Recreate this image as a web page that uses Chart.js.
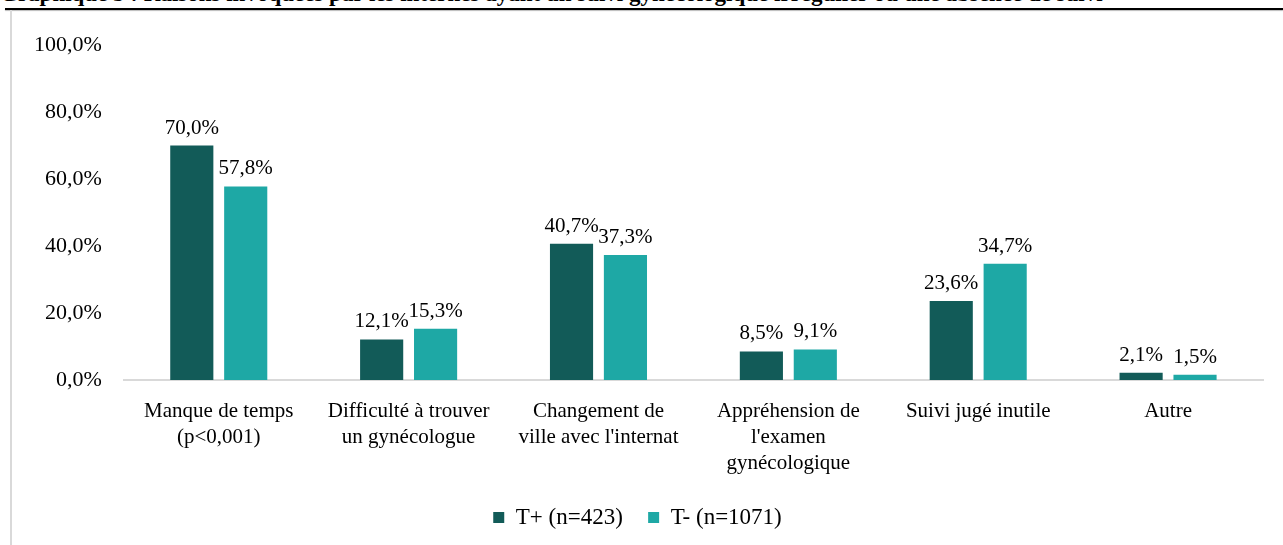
<!DOCTYPE html>
<html>
<head>
<meta charset="utf-8">
<script src="https://cdn.jsdelivr.net/npm/chart.js@4/dist/chart.umd.min.js"></script>
<style>
  html, body { margin: 0; padding: 0; background: #fff; overflow: hidden; }
  body { width: 1283px; height: 545px; position: relative; }
  #title {
    position: absolute; left: 0; top: -18px; white-space: nowrap;
    font: bold 23px "Liberation Serif", "Times New Roman", serif; color: #000;
    line-height: 23px;
  }
  #rule { position: absolute; left: 5px; right: 0; top: 8px; height: 2px; background: #000; box-shadow: 0 1px 1px #bbb; }
  #frame { position: absolute; left: 10px; top: 10px; width: 1273px; height: 535px; border-left: 2px solid #d9d9d9; }
  #wrap { position: absolute; left: 12px; top: 10px; width: 1271px; height: 535px; }
</style>
</head>
<body>
<div id="title">Graphique 5 : Raisons invoquées par les internes ayant un suivi gynécologique irrégulier ou une absence de suivi</div>
<div id="rule"></div>
<div id="frame"></div>
<div id="wrap"><canvas id="chart1"></canvas></div>
<script>
CATEGORIES = [
	['Manque de temps', '(p<0,001)'],
	['Difficulté à trouver', 'un gynécologue'],
	['Changement de', "ville avec l'internat"],
	['Appréhension de', "l'examen", 'gynécologique'],
	['Suivi jugé inutile'],
	['Autre']
];
T_PLUS = [70.0, 12.1, 40.7, 8.5, 23.6, 2.1];
T_MINUS = [57.8, 15.3, 37.3, 9.1, 34.7, 1.5];
SERIES_NAMES = ['T+ (n=423)', 'T- (n=1071)'];
COLORS = ['#125b58', '#1ea8a5'];
Y_TICKS = [0, 20, 40, 60, 80, 100];

function pct(v) {
	return v.toFixed(1).replace('.', ',') + '%';
}

// values written above each bar
var barValues = {
	id: 'barValues',
	afterDatasetsDraw: function(chart) {
		var ctx = chart.ctx;
		ctx.save();
		ctx.font = '21px "Liberation Serif", "Times New Roman", serif';
		ctx.fillStyle = '#000';
		ctx.textAlign = 'center';
		ctx.textBaseline = 'bottom';
		chart.data.datasets.forEach(function(ds, i) {
			chart.getDatasetMeta(i).data.forEach(function(bar, j) {
				ctx.fillText(pct(ds.data[j]), bar.x, bar.y - 7);
			});
		});
		ctx.restore();
	}
};

Chart.defaults.font.family = '"Liberation Serif", "Times New Roman", serif';
Chart.defaults.font.size = 21;
Chart.defaults.color = '#000';

var ctx = document.getElementById("chart1").getContext("2d");
new Chart(ctx, {
	type: 'bar',
	data: {
		labels: CATEGORIES,
		datasets: [{
			label: SERIES_NAMES[0],
			data: T_PLUS,
			backgroundColor: COLORS[0]
		}, {
			label: SERIES_NAMES[1],
			data: T_MINUS,
			backgroundColor: COLORS[1]
		}]
	},
	options: {
		responsive: true,
		maintainAspectRatio: false,
		animation: false,
		categoryPercentage: 0.568,
		barPercentage: 0.8,
		layout: {
			padding: { left: 0, right: 20, top: 28, bottom: 6 }
		},
		scales: {
			x: {
				grid: { display: false, drawTicks: false },
				border: { color: '#d9d9d9', width: 2 },
				ticks: { padding: 19, maxRotation: 0, autoSkip: false, font: { size: 21, lineHeight: 1.24 } }
			},
			y: {
				min: 0,
				max: 100,
				afterBuildTicks: function(axis) {
					axis.ticks = Y_TICKS.map(function(v) { return { value: v }; });
				},
				grid: { display: false, drawTicks: false },
				border: { display: false },
				ticks: { padding: 22, font: { size: 22 }, callback: function(v) { return pct(v); } }
			}
		},
		plugins: {
			legend: {
				position: 'bottom',
				labels: {
					boxWidth: 11, boxHeight: 11, padding: 10, font: { size: 23 },
					generateLabels: function(chart) {
						var items = Chart.defaults.plugins.legend.labels.generateLabels(chart);
						// a little more room between the two entries
						items[0].text += '\u2002\u2006';
						return items;
					}
				}
			},
			tooltip: { enabled: false }
		}
	},
	plugins: [barValues]
});
</script>
</body>
</html>
